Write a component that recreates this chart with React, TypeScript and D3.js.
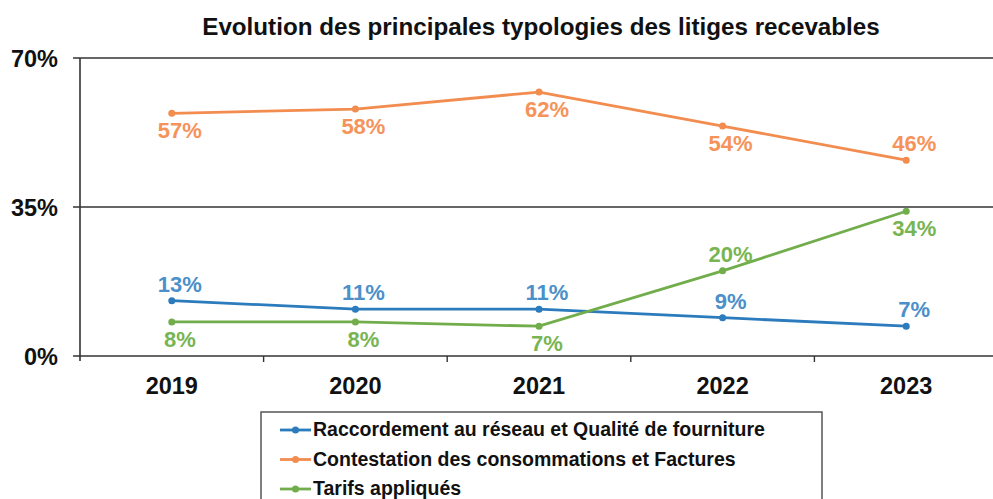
import React from 'react'
import * as d3 from 'd3'

const years = ['2019', '2020', '2021', '2022', '2023']
const raccordement = [13, 11, 11, 9, 7]
const contestation = [57, 58, 62, 54, 46]
const tarifs = [8, 8, 7, 20, 34]
const yTicks = [0, 35, 70]

// label side per point: 1 = above, -1 = below
const series = [
  { name: 'Raccordement au réseau et Qualité de fourniture', values: raccordement, line: '#2b7bbd', label: '#4b90c9', side: [1, 1, 1, 1, 1] },
  { name: 'Contestation des consommations et Factures', values: contestation, line: '#f28c4f', label: '#f5935a', side: [-1, -1, -1, -1, 1] },
  { name: 'Tarifs appliqués', values: tarifs, line: '#72ad4c', label: '#78b552', side: [-1, -1, -1, 1, -1] }
]

const width = 993
const height = 499
const font = '"Liberation Sans", Arial, sans-serif'

const x = d3.scaleBand().domain(years).range([80, 998])
const y = d3.scaleLinear().domain([0, 70]).range([356, 58])
const cx = (d: string) => (x(d) as number) + x.bandwidth() / 2

const line = d3
  .line<number>()
  .x((d, i) => cx(years[i]))
  .y(d => y(d))

export default function App() {
  return (
    <svg
      width={width}
      height={height}
      style={{ position: 'absolute', left: 0, top: 0, background: '#fff' }}
      fontFamily={font}
      fontWeight="bold"
    >
      <text x={541} y={35} fontSize={24.2} textAnchor="middle" fill="#111">
        Evolution des principales typologies des litiges recevables
      </text>

      {yTicks.map(t => (
        <g key={t}>
          <line x1={73} x2={width} y1={y(t)} y2={y(t)} stroke="#333" strokeWidth={1.6} />
          <text x={58} y={y(t) + 8.5} fontSize={23.5} textAnchor="end" fill="#111">
            {t}%
          </text>
        </g>
      ))}
      <line x1={80} x2={80} y1={y(70)} y2={y(0) + 5} stroke="#333" strokeWidth={1.6} />
      {years.slice(1).map(yr => (
        <line key={yr} x1={x(yr)} x2={x(yr)} y1={y(0)} y2={y(0) + 6} stroke="#333" strokeWidth={1.4} />
      ))}
      {years.map(yr => (
        <text key={yr} x={cx(yr)} y={394} fontSize={23.5} textAnchor="middle" fill="#111">
          {yr}
        </text>
      ))}

      {series.map(s => (
        <g key={s.name}>
          <path d={line(s.values) || ''} fill="none" stroke={s.line} strokeWidth={2.8} />
          {s.values.map((v, i) => (
            <circle key={i} cx={cx(years[i])} cy={y(v)} r={3.5} fill={s.line} />
          ))}
          {s.values.map((v, i) => (
            <text
              key={'l' + i}
              x={cx(years[i]) + 8}
              y={y(v) + (s.side[i] > 0 ? -9 : 25)}
              fontSize={22}
              textAnchor="middle"
              fill={s.label}
            >
              {v}%
            </text>
          ))}
        </g>
      ))}

      <rect x={261} y={412} width={561} height={100} fill="none" stroke="#555" strokeWidth={1.5} />
      {series.map((s, i) => (
        <g key={s.name} transform={`translate(0,${429 + i * 29.5})`}>
          <line x1={280} x2={311} y1={1} y2={1} stroke={s.line} strokeWidth={2.8} />
          <circle cx={295.5} cy={1} r={3.5} fill={s.line} />
          <text x={313} y={7} fontSize={19.5} fill="#111">
            {s.name}
          </text>
        </g>
      ))}
    </svg>
  )
}
